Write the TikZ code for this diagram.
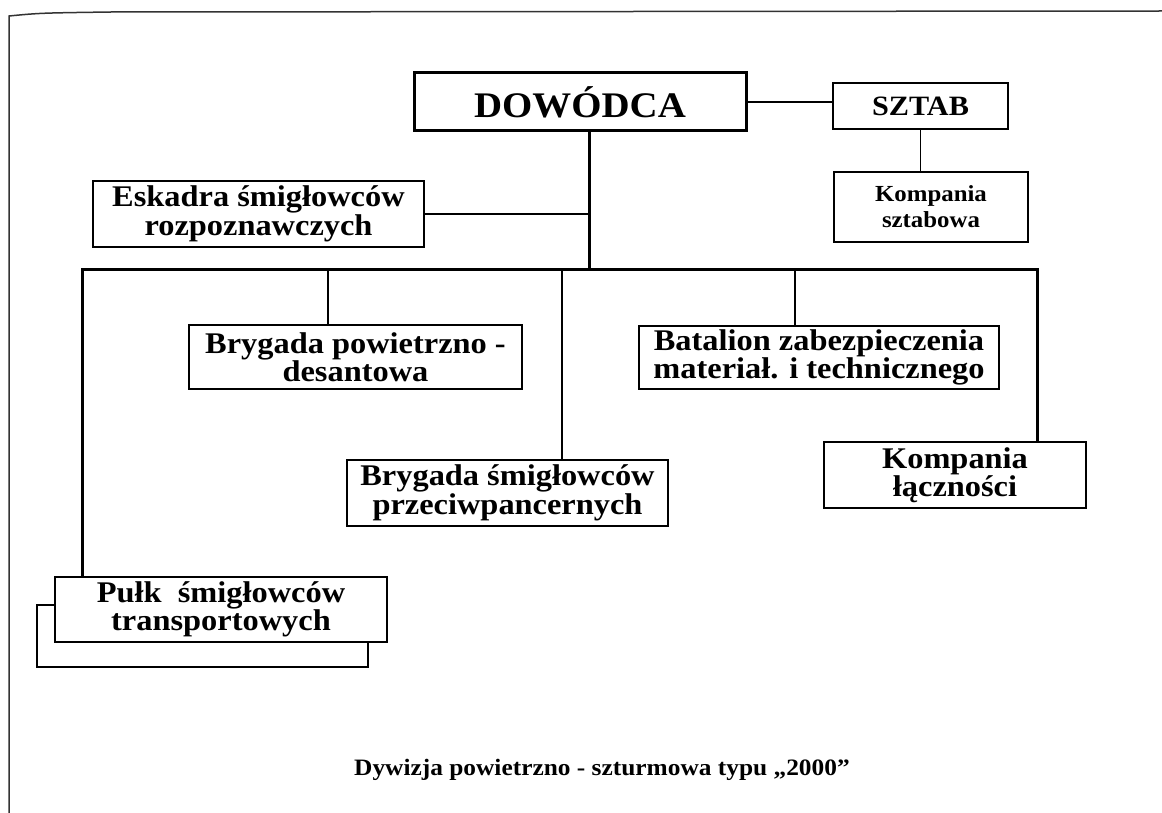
\documentclass[tikz,border=0pt]{standalone}
\usepackage{fontspec}
\newfontfamily\orgfont{Liberation Serif}[UprightFont=* Bold, FakeStretch=1.08]
\begin{document}
\begin{tikzpicture}[x=1pt,y=-1pt,
    box/.style={draw, line width=1.3pt, fill=white, align=center, inner sep=0pt,
      font=\orgfont\fontsize{30}{27}\selectfont},
    bus/.style={line width=3pt},
    link/.style={line width=1.3pt}]
  \useasboundingbox (0,0) rectangle (1162,813);
  % ramka strony
  \draw[line width=1.5pt, black!80] (9,813) -- (9,16) .. controls (40,13) .. (111,12) -- (1162,11);

  % dowodca i sztab
  \node[box, line width=3pt, minimum width=332, minimum height=58,
    font=\orgfont\fontsize{36}{38}\selectfont] (dow) at (580,102) {DOWÓDCA};
  \node[box, minimum width=175, minimum height=46,
    font=\orgfont\fontsize{28}{30}\selectfont] (sztab) at (920.5,106) {SZTAB};
  \node[box, minimum width=194, minimum height=70,
    font=\orgfont\fontsize{23}{26}\selectfont] (ksz) at (931,207) {Kompania\\sztabowa};
  \node[box, minimum width=331, minimum height=66] (esk) at (258.5,214) {Eskadra śmigłowców\\rozpoznawczych};

  % pododdzialy
  \node[box, minimum width=333, minimum height=64] (bpd) at (355.5,357) {Brygada powietrzno -\\desantowa};
  \node[box, minimum width=360, minimum height=63] (bat) at (819,357.5) {Batalion zabezpieczenia\\materiał. i technicznego};
  \node[box, minimum width=321, minimum height=66] (bsp) at (507.5,493) {Brygada śmigłowców\\przeciwpancernych};
  \node[box, minimum width=262, minimum height=66] (kl) at (955,475) {Kompania\\łączności};
  \node[box, minimum width=331, minimum height=62] (pulkb) at (202.5,636) {};
  \node[box, minimum width=332, minimum height=65] (pulk) at (221,609.5) {Pułk\ \ śmigłowców\\transportowych};

  % szyna
  \coordinate (busL) at (82,269);
  \coordinate (busM) at (589,269);
  \coordinate (busR) at (1037,269);
  \coordinate (b1) at (328,269);
  \coordinate (b2) at (562,269);
  \coordinate (b3) at (795,269);

  \draw[link] (dow.east) -- (dow.east -| sztab.west);
  \draw[link] (sztab.south) -- (sztab.south |- ksz.north);
  \draw[bus] (busM |- dow.south) -- (busM);
  \draw[link] (esk.east) -- (esk.east -| busM);
  \draw[bus] (busL |- pulk.north) -- (busL) -- (busR) -- (busR |- kl.north);
  \draw[link] (b1) -- (b1 |- bpd.north);
  \draw[link] (b2) -- (b2 |- bsp.north);
  \draw[link] (b3) -- (b3 |- bat.north);

  \node[font=\orgfont\fontsize{23.5}{26}\selectfont] (opis) at (602,770)
    {Dywizja powietrzno - szturmowa typu „2000”};
\end{tikzpicture}
\end{document}
